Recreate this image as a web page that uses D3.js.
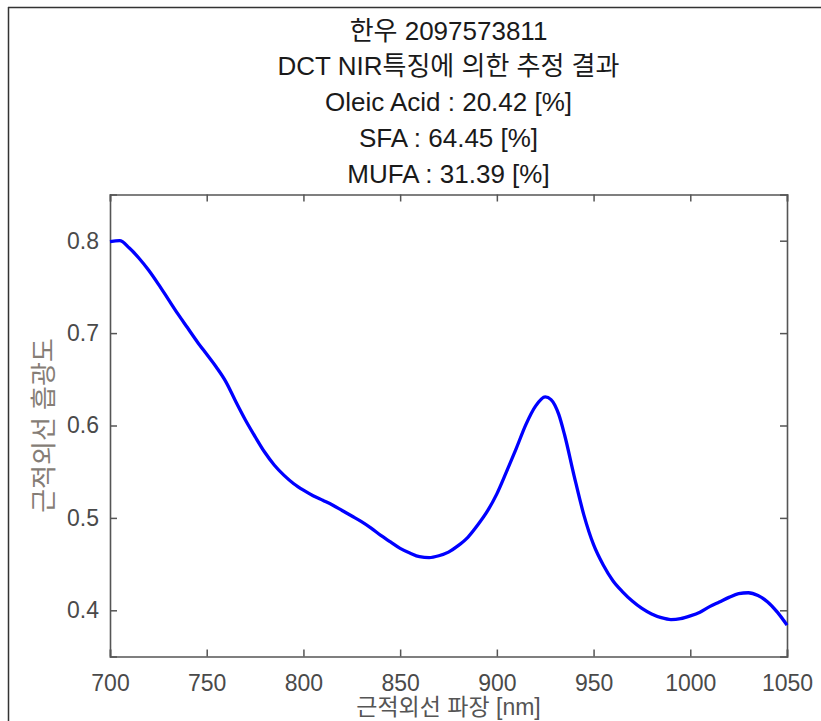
<!DOCTYPE html>
<head>
    <meta charset="utf-8" />
    <title>DCT NIR</title>
</head>
<style>
    body {
        margin: 0;
        background-color: #ffffff;
    }
    text {
        font-family: "Liberation Sans", Arial, "Noto Sans CJK KR", sans-serif;
    }
</style>
<body>
    <svg id="chart" width="821" height="721"></svg>
    <script src="https://d3js.org/d3.v7.min.js"></script>
    <script>
        // data
        var wavelength = [700, 705, 710, 715, 720, 725, 730, 735, 740, 745, 750, 755, 760, 765, 770, 775, 780, 785, 790, 795,
            800, 805, 810, 815, 820, 825, 830, 835, 840, 845, 850, 855, 860, 865, 870, 875, 880, 885, 890, 895,
            900, 905, 910, 915, 920, 925, 928, 930, 932, 935, 940, 945, 950, 955, 960, 965, 970, 975, 980, 985,
            990, 995, 1000, 1005, 1010, 1015, 1020, 1025, 1030, 1035, 1040, 1045, 1050];
        var absorbance = [0.799, 0.800, 0.792, 0.781, 0.768, 0.753, 0.737, 0.721, 0.706, 0.691, 0.677, 0.663, 0.647, 0.626, 0.606, 0.588, 0.571, 0.557, 0.546, 0.537,
            0.530, 0.524, 0.519, 0.514, 0.508, 0.502, 0.496, 0.489, 0.481, 0.474, 0.467, 0.462, 0.458, 0.457, 0.459, 0.463, 0.470, 0.479, 0.492, 0.507,
            0.526, 0.550, 0.575, 0.601, 0.621, 0.631, 0.628, 0.622, 0.612, 0.590, 0.545, 0.503, 0.471, 0.449, 0.432, 0.420, 0.410, 0.402, 0.396, 0.392,
            0.390, 0.391, 0.394, 0.398, 0.404, 0.409, 0.414, 0.418, 0.419, 0.416, 0.409, 0.398, 0.384];
        var xTicks = [700, 750, 800, 850, 900, 950, 1000, 1050];
        var yTicks = [0.4, 0.5, 0.6, 0.7, 0.8];
        var titleLines = ["한우 2097573811", "DCT NIR특징에 의한 추정 결과", "Oleic Acid : 20.42 [%]", "SFA : 64.45 [%]", "MUFA : 31.39 [%]"];

        var data = wavelength.map(function(w, i) {
            return { w: w, a: absorbance[i] };
        });

        var margin = { top: 194.5, right: 34, bottom: 64.5, left: 110 };
        var svg = d3.select("#chart");
        var width = 821 - margin.left - margin.right,
            height = 721 - margin.top - margin.bottom;

        // outer frame of the screenshot
        svg.append("line").attr("x1", 8).attr("x2", 821).attr("y1", 7.5).attr("y2", 7.5)
            .attr("stroke", "#333").attr("stroke-width", 1.5);
        svg.append("line").attr("x1", 8.5).attr("x2", 8.5).attr("y1", 7).attr("y2", 721)
            .attr("stroke", "#333").attr("stroke-width", 1.5);

        var g = svg.append("g")
            .attr("transform", "translate(" + margin.left + "," + margin.top + ")");

        var x = d3.scaleLinear().domain([700, 1050]).range([0, width]);
        var y = d3.scaleLinear().domain([0.35, 0.85]).range([height, 0]);

        // inward ticks on all four sides
        var tickLen = 7;
        var axisColor = "#555";

        var xAxis = g.append("g").attr("transform", "translate(0," + height + ")")
            .call(d3.axisBottom(x).tickValues(xTicks).tickSize(-tickLen).tickPadding(18).tickFormat(d3.format("d")));
        var yAxis = g.append("g")
            .call(d3.axisLeft(y).tickValues(yTicks).tickSize(-tickLen).tickPadding(11).tickFormat(d3.format(".1f")));
        var xTop = g.append("g")
            .call(d3.axisTop(x).tickValues(xTicks).tickSize(-tickLen).tickFormat(""));
        var yRight = g.append("g").attr("transform", "translate(" + width + ",0)")
            .call(d3.axisRight(y).tickValues(yTicks).tickSize(-tickLen).tickFormat(""));

        [xAxis, yAxis, xTop, yRight].forEach(function(a) {
            a.select(".domain").attr("stroke", axisColor).attr("stroke-width", 1.6);
            a.selectAll(".tick line").attr("stroke", axisColor).attr("stroke-width", 1.5);
            a.selectAll(".tick text").attr("fill", "#4a4a4a").attr("font-size", "23px")
                .attr("font-family", "'Liberation Sans', Arial, sans-serif");
        });

        // the spectrum
        var line = d3.line()
            .x(function(d) { return x(d.w); })
            .y(function(d) { return y(d.a); })
            .curve(d3.curveMonotoneX);

        g.append("path")
            .datum(data)
            .attr("fill", "none")
            .attr("stroke", "#0000ff")
            .attr("stroke-width", 3.3)
            .attr("d", line);

        // title
        svg.selectAll(".title")
            .data(titleLines)
            .enter().append("text")
            .attr("class", "title")
            .attr("x", margin.left + width / 2)
            .attr("y", function(d, i) { return 39.5 + i * 35.8; })
            .attr("text-anchor", "middle")
            .attr("font-size", "26px")
            .attr("fill", "#1a1a1a")
            .text(function(d) { return d; });

        // axis labels
        svg.append("text")
            .attr("x", margin.left + width / 2)
            .attr("y", 715)
            .attr("text-anchor", "middle")
            .attr("font-size", "23px")
            .attr("fill", "#555")
            .text("근적외선 파장 [nm]");

        svg.append("text")
            .attr("transform", "translate(53," + (margin.top + height / 2) + ") rotate(-90)")
            .attr("text-anchor", "middle")
            .attr("font-size", "26px")
            .attr("fill", "#857d76")
            .text("근적외선 흡광도");
    </script>
</body>
